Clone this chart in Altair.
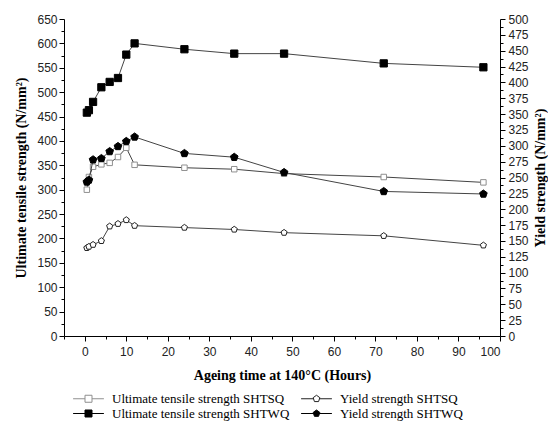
import altair as alt
import pandas as pd

hours = [0.5, 1, 2, 4, 6, 8, 10, 12, 24, 36, 48, 72, 96]
uts_shtsq = [300, 326, 347, 352, 355, 367, 386, 351, 345, 342, 333, 326, 315]
uts_shtwq = [458, 463, 480, 510, 521, 529, 577, 600, 588, 579, 579, 559, 551]
ys_shtsq = [139, 141, 144, 150, 173, 177, 183, 174, 171, 168, 163, 158, 143]
ys_shtwq = [243, 246, 278, 280, 291, 299, 307, 314, 288, 282, 258, 228, 224]

series_names = [
    "Ultimate tensile strength SHTSQ",
    "Yield strength SHTSQ",
    "Ultimate tensile strength SHTWQ",
    "Yield strength SHTWQ",
]

rows = []
for name, kind, vals in [
    (series_names[0], "UTS", uts_shtsq),
    (series_names[2], "UTS", uts_shtwq),
    (series_names[1], "YS", ys_shtsq),
    (series_names[3], "YS", ys_shtwq),
]:
    for h, v in zip(hours, vals):
        rows.append({"series": name, "kind": kind, "hours": h, "value": v})
df = pd.DataFrame(rows)

PENT = "M0,-1L0.951,-0.309L0.588,0.809L-0.588,0.809L-0.951,-0.309Z"
LSQ = "M-4.4,0H-1M1,0H4.4M-1,-1H1V1H-1Z"
LPENT = "M-4.4,0H-0.85M0.85,0H4.4" + PENT

fill_range = ["white", "white", "black", "black"]
stroke_range = ["#8f8f8f", "#222222", "#000000", "#000000"]

axis_style = dict(
    domainColor="black", tickColor="black", grid=False,
    labelFont="Liberation Sans", labelFontSize=12, labelColor="#222",
    titleFont="Liberation Serif", titleFontWeight="bold", titleFontSize=14,
    titleColor="black",
)

x_enc = alt.X(
    "hours:Q",
    scale=alt.Scale(domain=[-5, 100], nice=False, zero=False),
    axis=alt.Axis(
        values=list(range(-5, 101, 5)),
        labelExpr="datum.value % 10 === 0 ? datum.label : ''",
        tickSize={"condition": {"test": "datum.value % 10 === 0", "value": 5}, "value": 3},
        labelPadding=5,
        title="Ageing time at 140°C (Hours)", titlePadding=11, **axis_style),
)

y_uts = alt.Y(
    "value:Q",
    scale=alt.Scale(domain=[0, 650], nice=False),
    axis=alt.Axis(
        values=list(range(0, 651, 25)), orient="left",
        labelExpr="datum.value % 50 === 0 ? datum.label : ''",
        tickSize={"condition": {"test": "datum.value % 50 === 0", "value": 5}, "value": 3},
        title="Ultimate tensile strength (N/mm²)", titlePadding=8, **axis_style),
)

y_ys = alt.Y(
    "value:Q",
    scale=alt.Scale(domain=[0, 500], nice=False),
    axis=alt.Axis(
        values=[i * 12.5 for i in range(41)], orient="right",
        labelExpr="datum.value % 25 === 0 ? datum.label : ''",
        tickSize={"condition": {"test": "datum.value % 25 === 0", "value": 5}, "value": 3},
        labelPadding=3,
        title="Yield strength (N/mm²)", titleAngle=270, titlePadding=19, **axis_style),
)

base = alt.Chart(df)

def layer_for(kind, y_enc):
    sub = base.transform_filter(alt.datum.kind == kind)
    line = sub.mark_line(color="#444444", strokeWidth=1).encode(
        x=x_enc, y=y_enc, detail="series:N", order="hours:Q")
    pts = sub.mark_point(filled=True, opacity=1, strokeWidth=1).encode(
        x=x_enc, y=y_enc,
        shape=alt.Shape("series:N", scale=alt.Scale(domain=series_names, range=["square", PENT, "square", PENT]), legend=None),
        fill=alt.Fill("series:N", scale=alt.Scale(domain=series_names, range=fill_range), legend=None),
        stroke=alt.Stroke("series:N", scale=alt.Scale(domain=series_names, range=stroke_range), legend=None),
        size=alt.Size("series:N", scale=alt.Scale(domain=series_names, range=[30, 64, 32, 90]), legend=None),
    )
    return alt.layer(line, pts)

legend = alt.Legend(
    title=None, orient="none", legendX=18, legendY=373, columns=2,
    direction="horizontal", labelFont="Liberation Serif", labelFontSize=13,
    labelColor="black", symbolSize=49, symbolStrokeWidth=1, labelOffset=17,
    labelLimit=400, columnPadding=9, rowPadding=1,
)

legend_layer = base.transform_filter("false").mark_point(filled=True, opacity=1, strokeWidth=1).encode(
    shape=alt.Shape("series:N", scale=alt.Scale(domain=series_names, range=[LSQ, LPENT, LSQ, LPENT]), legend=legend),
    fill=alt.Fill("series:N", scale=alt.Scale(domain=series_names, range=fill_range), legend=legend),
    stroke=alt.Stroke("series:N", scale=alt.Scale(domain=series_names, range=stroke_range), legend=legend),
)

chart = alt.layer(layer_for("UTS", y_uts), layer_for("YS", y_ys), legend_layer).resolve_scale(
    y="independent", shape="independent", fill="independent", stroke="independent", size="independent"
).properties(width=436, height=317, padding={"left": 6, "top": 5, "right": 0, "bottom": 0}).configure_view(stroke=None)

chart.save("out.html", embed_options={"renderer": "svg", "actions": False})
